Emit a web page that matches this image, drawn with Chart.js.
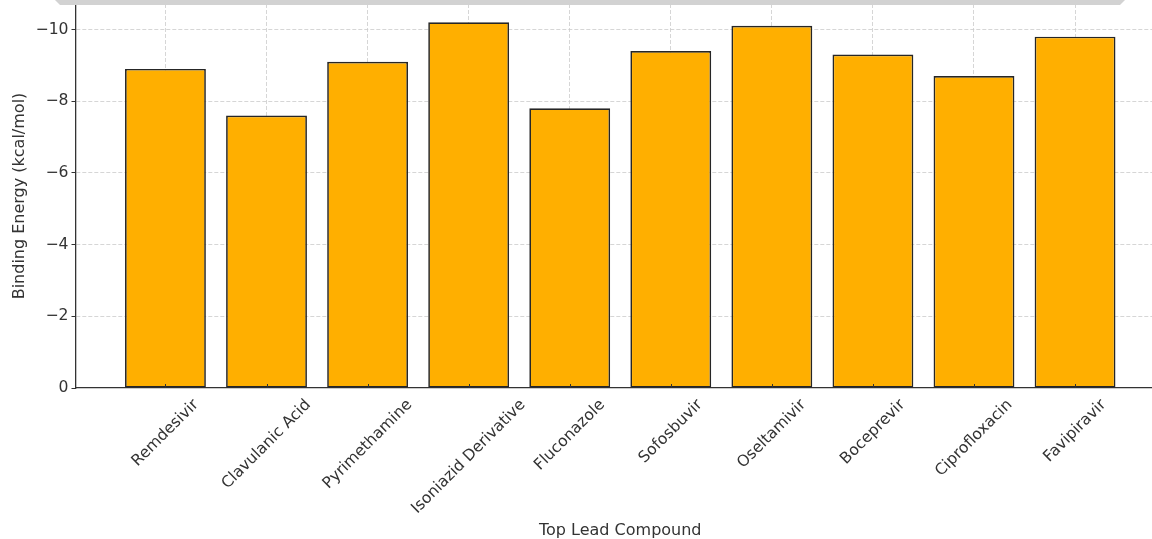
<!DOCTYPE html>
<html>
<head>
<meta charset="utf-8">
<title>Binding Energy of Top Lead Compounds</title>
<script src="https://cdn.jsdelivr.net/npm/chart.js@4/dist/chart.umd.min.js"></script>
<style>
  html, body { margin: 0; padding: 0; background: #ffffff; overflow: hidden; }
  #wrap { position: relative; width: 1152px; height: 539px; overflow: hidden; }
  #topband {
    position: absolute; top: 0; left: 55px; width: 1070px; height: 5px;
    background: #d2d2d2;
    clip-path: polygon(0 0, 100% 0, calc(100% - 5px) 100%, 5px 100%);
  }
  canvas { position: absolute; top: 0; left: 0; }
</style>
</head>
<body>
<div id="wrap">
  <canvas id="chart" width="1200" height="539"></canvas>
  <div id="topband"></div>
</div>
<script>
// Compounds along the x axis
const categories = [
  'Remdesivir', 'Clavulanic Acid', 'Pyrimethamine', 'Isoniazid Derivative',
  'Fluconazole', 'Sofosbuvir', 'Oseltamivir', 'Boceprevir',
  'Ciprofloxacin', 'Favipiravir'
];
// Docking scores in kcal/mol
const bindingEnergy = [-8.9, -7.6, -9.1, -10.2, -7.8, -9.4, -10.1, -9.3, -8.7, -9.8];
// Y tick values
const yTicks = [0, -2, -4, -6, -8, -10];

const xTitle = 'Top Lead Compound';
const yTitle = 'Binding Energy (kcal/mol)';

const FONT = "'DejaVu Sans', 'Liberation Sans', sans-serif";
const TEXT = '#333333';
const AXIS = '#333333';
const GRID = '#cccccc';

// Rotated, centre-aligned category labels plus short inward x tick marks
const categoryLabels = {
  id: 'categoryLabels',
  afterDraw(chart) {
    const xs = chart.scales.x;
    const ctx = chart.ctx;
    const base = chart.chartArea.bottom;
    const size = 15.6;
    ctx.save();
    ctx.font = size + 'px ' + FONT;
    ctx.fillStyle = TEXT;
    ctx.strokeStyle = AXIS;
    ctx.lineWidth = 1;
    const c = Math.SQRT1_2;
    xs.ticks.forEach(t => {
      const label = categories[t.value];
      if (label === undefined) return;
      const x = xs.getPixelForValue(t.value);
      // tick mark
      ctx.beginPath();
      ctx.moveTo(Math.round(x) + 0.5, base);
      ctx.lineTo(Math.round(x) + 0.5, base - 4);
      ctx.stroke();
      // label
      const w = ctx.measureText(label).width;
      const h = size * 1.17;
      const box = (w + h) * c;
      ctx.save();
      ctx.translate(x, base + 8 + box / 2);
      ctx.rotate(-Math.PI / 4);
      ctx.textAlign = 'center';
      ctx.textBaseline = 'middle';
      ctx.fillText(label, 0, 0);
      ctx.restore();
    });
    ctx.restore();
  }
};

const points = categories.map((name, i) => ({ x: i, y: bindingEnergy[i] }));

new Chart(document.getElementById('chart'), {
  type: 'bar',
  data: {
    datasets: [{
      label: 'Binding Energy',
      data: points,
      backgroundColor: '#FFAF00',
      borderColor: '#262626',
      borderWidth: 1.7,
      borderSkipped: false,
      barPercentage: 0.8,
      categoryPercentage: 1.0
    }]
  },
  options: {
    responsive: false,
    animation: false,
    events: [],
    layout: { padding: { left: 0, top: 4, right: 35, bottom: 0 } },
    plugins: {
      legend: { display: false },
      tooltip: { enabled: false }
    },
    scales: {
      x: {
        type: 'linear',
        min: -0.89,
        max: 9.89,
        offset: false,
        z: 1,
        afterFit(scale) {
          scale.height = 151;
          scale.paddingLeft = 0;
          scale.paddingRight = 0;
        },
        ticks: { display: false, stepSize: 1, includeBounds: false },
        grid: {
          offset: false,
          drawTicks: false,
          color: GRID,
          lineWidth: 0.8
        },
        border: { display: true, color: AXIS, width: 1.3, dash: [4, 2] },
        title: {
          display: true,
          text: xTitle,
          color: TEXT,
          font: { family: FONT, size: 16 },
          padding: { top: 0, bottom: -1 }
        }
      },
      y: {
        type: 'linear',
        reverse: true,
        min: -10.71,
        max: 0,
        z: 1,
        afterFit(scale) {
          scale.width = 75.5;
          scale.paddingTop = 0;
          scale.paddingBottom = 0;
        },
        afterBuildTicks(scale) {
          scale.ticks = yTicks.map(v => ({ value: v }));
        },
        ticks: {
          color: TEXT,
          padding: 3,
          font: { family: FONT, size: 15.6 },
          callback: v => (v < 0 ? '\u2212' + Math.abs(v) : String(v))
        },
        grid: {
          // the zero line is the x axis itself, so no dashed grid line there
          color: c => (c.tick && c.tick.value === 0 ? 'rgba(0,0,0,0)' : GRID),
          lineWidth: 0.8,
          tickColor: AXIS,
          tickBorderDash: [],
          tickWidth: 1,
          tickLength: 4
        },
        border: { display: true, color: AXIS, width: 1.3, dash: [4, 2] },
        title: {
          display: true,
          text: yTitle,
          color: TEXT,
          font: { family: FONT, size: 16 },
          padding: { top: 10, bottom: 0 }
        }
      }
    }
  },
  plugins: [categoryLabels]
});
</script>
</body>
</html>
